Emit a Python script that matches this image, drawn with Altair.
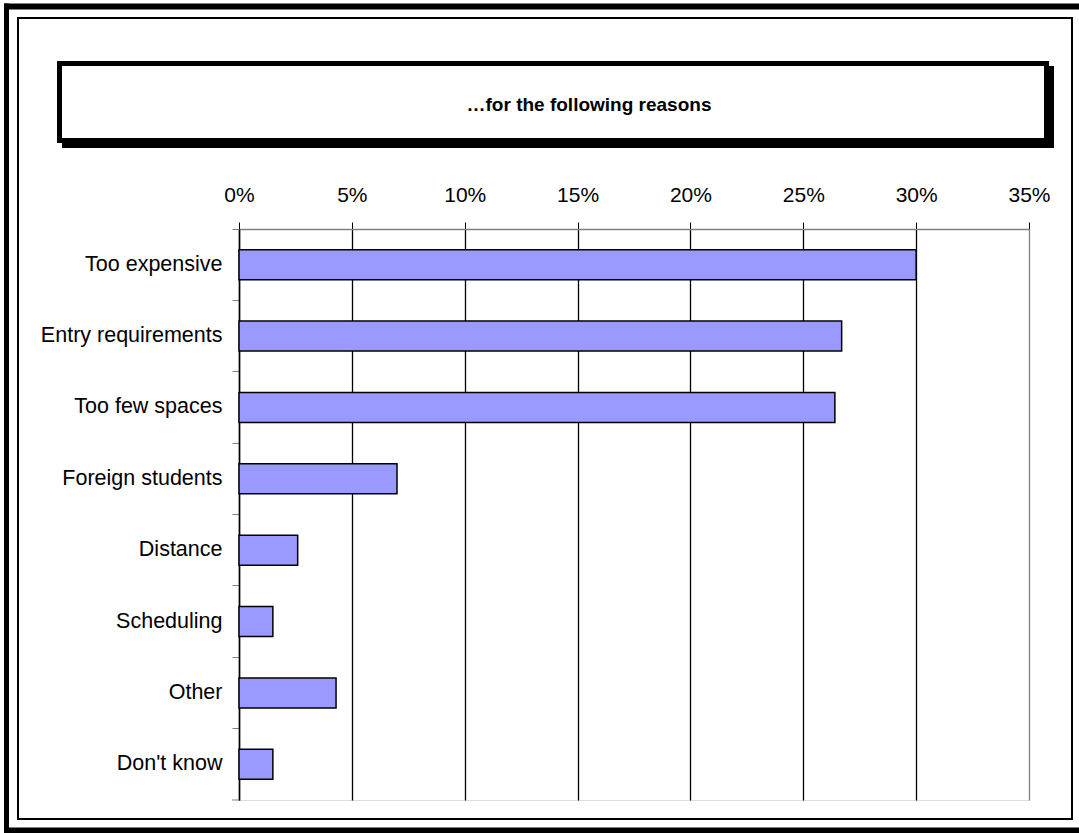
import altair as alt
import pandas as pd

reasons = ["Too expensive", "Entry requirements", "Too few spaces", "Foreign students",
           "Distance", "Scheduling", "Other", "Don't know"]
shares = [0.300, 0.267, 0.264, 0.070, 0.026, 0.015, 0.043, 0.015]
x_ticks = [0, 0.05, 0.10, 0.15, 0.20, 0.25, 0.30, 0.35]
title_text = "\u2026for the following reasons"

df = pd.DataFrame({"reason": reasons, "share": shares})
one = pd.DataFrame({"k": [0]})

FONT = "Liberation Sans"
W, H = 790, 571

bars = alt.Chart(df).mark_bar(
    fill="#9999FF", stroke="black", strokeWidth=1.5, height={"band": 0.42}
).encode(
    x=alt.X("share:Q",
            scale=alt.Scale(domain=[0, 0.35], nice=False),
            axis=alt.Axis(orient="top", values=x_ticks, format=".0%", title=None,
                          labelFont=FONT, labelFontSize=21, labelColor="black",
                          labelPadding=17, tickSize=7, tickColor="black",
                          domainColor="#808080", domainWidth=1.5,
                          grid=True,
                          gridColor={"condition": {"test": "datum.value >= 0.349", "value": "#808080"},
                                     "value": "black"},
                          gridWidth=1.3, labelFlush=False)),
    y=alt.Y("reason:N", sort=reasons,
            scale=alt.Scale(paddingInner=0, paddingOuter=0),
            axis=alt.Axis(title=None, bandPosition=0, labelFont=FONT, labelFontSize=21.5,
                          labelColor="black", labelPadding=10, labelLimit=400, tickSize=7,
                          tickColor="#808080", domainColor="black", domainWidth=1.5,
                          grid=False)),
)

bottom_tick = alt.Chart(one).mark_rule(color="#808080", strokeWidth=1).encode(
    x=alt.value(-7), x2=alt.value(0), y=alt.value(H)
)

# outer thick frame (top, left, bottom edges) and inner thin frame (4 rules)
outer_top = alt.Chart(one).mark_rule(color="black", strokeWidth=6).encode(
    x=alt.value(-235), x2=alt.value(840), y=alt.value(-222.5)
)
outer_bottom = alt.Chart(one).mark_rule(color="black", strokeWidth=6).encode(
    x=alt.value(-235), x2=alt.value(840), y=alt.value(601.5)
)
outer_left = alt.Chart(one).mark_rule(color="black", strokeWidth=5).encode(
    x=alt.value(-232.5), y=alt.value(-225.5), y2=alt.value(604)
)
inner_top = alt.Chart(one).mark_rule(color="black", strokeWidth=2).encode(
    x=alt.value(-222), x2=alt.value(834), y=alt.value(-211)
)
inner_bottom = alt.Chart(one).mark_rule(color="black", strokeWidth=2).encode(
    x=alt.value(-222), x2=alt.value(834), y=alt.value(590)
)
inner_left = alt.Chart(one).mark_rule(color="black", strokeWidth=2).encode(
    x=alt.value(-221), y=alt.value(-212), y2=alt.value(591)
)
inner_right = alt.Chart(one).mark_rule(color="black", strokeWidth=2).encode(
    x=alt.value(833), y=alt.value(-212), y2=alt.value(591)
)

# title box with shadow
shadow = alt.Chart(one).mark_rect(fill="black").encode(
    x=alt.value(-177), x2=alt.value(815), y=alt.value(-163), y2=alt.value(-81)
)
tbox = alt.Chart(one).mark_rect(fill="white", stroke="black", strokeWidth=5).encode(
    x=alt.value(-179.5), x2=alt.value(807.5), y=alt.value(-165.5), y2=alt.value(-88.5)
)
ttext = alt.Chart(one).mark_text(font=FONT, fontSize=19, fontWeight="bold",
                                 align="center", baseline="middle", color="black").encode(
    x=alt.value(350), y=alt.value(-124), text=alt.value(title_text)
)

chart = alt.layer(outer_top, outer_bottom, outer_left,
                  inner_top, inner_bottom, inner_left, inner_right,
                  shadow, tbox, ttext, bars, bottom_tick).properties(
    width=W, height=H,
    autosize=alt.AutoSizeParams(type="none"),
    padding={"left": 239, "top": 229, "right": 50, "bottom": 33},
).configure_view(stroke=None).configure(background="white")

chart.save("out.html", embed_options={"renderer": "svg", "actions": False})
